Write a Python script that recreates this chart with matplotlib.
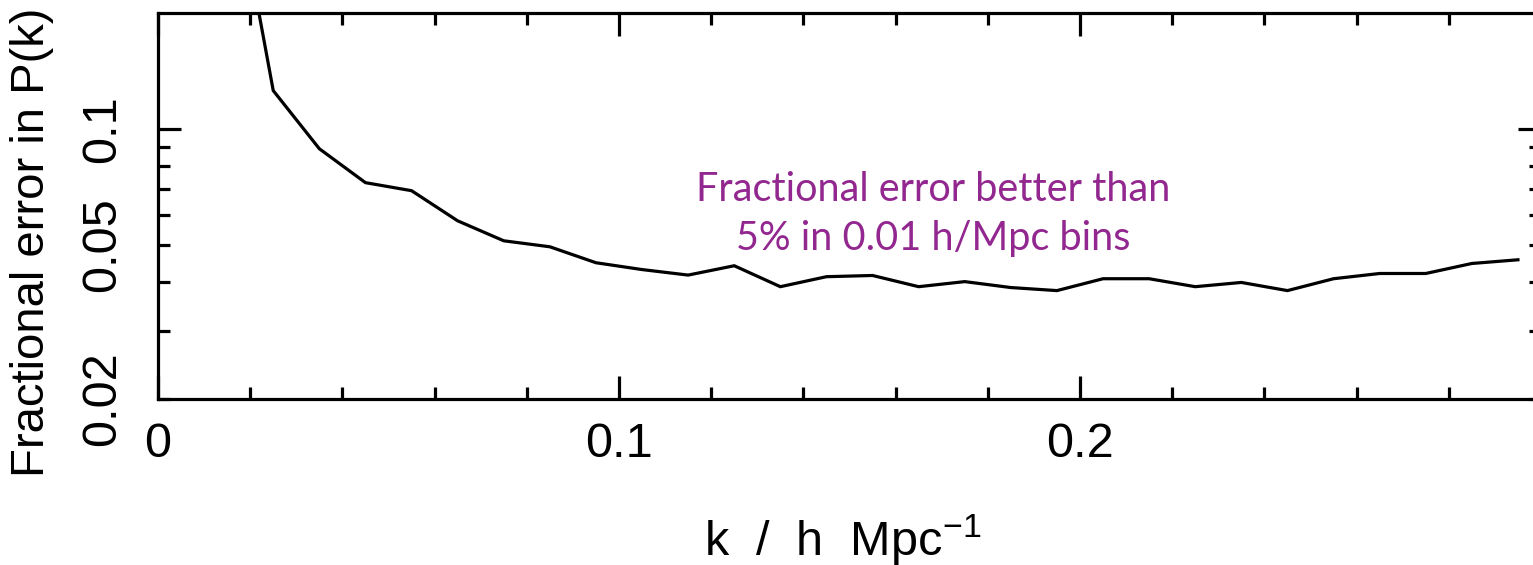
import matplotlib
matplotlib.use("Agg")
import matplotlib.pyplot as plt
from matplotlib.ticker import FixedLocator

# data
k = [0.015, 0.025, 0.035, 0.045, 0.055, 0.065, 0.075, 0.085, 0.095, 0.105,
     0.115, 0.125, 0.135, 0.145, 0.155, 0.165, 0.175, 0.185, 0.195, 0.205,
     0.215, 0.225, 0.235, 0.245, 0.255, 0.265, 0.275, 0.285, 0.295]
frac_err = [0.56, 0.1258, 0.0889, 0.0726, 0.0692, 0.0578, 0.0513, 0.0495, 0.0450, 0.0432,
            0.0418, 0.0442, 0.0390, 0.0414, 0.0417, 0.0390, 0.0402, 0.0388, 0.0381, 0.0409,
            0.0409, 0.0390, 0.0400, 0.0381, 0.0409, 0.0422, 0.0422, 0.0448, 0.0458]
x_major = [0.0, 0.1, 0.2]
x_major_labels = ["0", "0.1", "0.2"]
x_minor = [0.02, 0.04, 0.06, 0.08, 0.12, 0.14, 0.16, 0.18, 0.22, 0.24, 0.26, 0.28, 0.3]
y_major = [0.1]
y_major_labels = ["0.1"]
y_minor = [0.02, 0.03, 0.04, 0.05, 0.06, 0.07, 0.08, 0.09]
y_minor_labels = ["0.02", "", "", "0.05", "", "", "", ""]
note = "Fractional error better than\n5% in 0.01 h/Mpc bins"

plt.rcParams['font.family'] = ['Liberation Sans', 'DejaVu Sans']
plt.rcParams['mathtext.default'] = 'regular'

W, H = 1533, 565
fig = plt.figure(figsize=(W / 100, H / 100), dpi=100)
ax = fig.add_axes([158 / W, 1 - 398.5 / H, (1541 - 158) / W, (398.5 - 13) / H])

ax.plot(k, frac_err, color='black', lw=2.3, solid_joinstyle='miter')
ax.set_yscale('log')
ax.set_xlim(0, 0.3)
ax.set_ylim(0.02, 0.2)

ax.set_xticks(x_major, x_major_labels, fontsize=35)
ax.set_xticks(x_minor, minor=True)
ax.set_yticks(y_major, y_major_labels, rotation=90, va='center', fontsize=35)
ax.set_yticks(y_minor, y_minor_labels, minor=True, rotation=90, va='center', fontsize=35)

for sp in ax.spines.values():
    sp.set_linewidth(2.3)
ax.tick_params(which='both', direction='in', top=True, right=True, width=2.3)
ax.tick_params(which='major', length=16.5)
ax.tick_params(which='minor', length=8.6)
ax.tick_params(axis='x', which='both', pad=17)
ax.tick_params(axis='y', which='both', pad=24)

fig.text(32 / W, 1 - 477 / H, "Fractional error in P(k)", rotation=90,
         ha='center', va='bottom', fontsize=34)
fig.text(843 / W, 1 - 556 / H, "k  /  h  Mpc$^{-1}$", ha='center', va='baseline', fontsize=35)

fig.text(933 / W, 1 - 214 / H, note, ha='center', va='center', multialignment='center',
         fontsize=28.5, color='#92278f', family=['Lato', 'DejaVu Sans'], linespacing=1.4)

fig.savefig('out.png', dpi=100)
